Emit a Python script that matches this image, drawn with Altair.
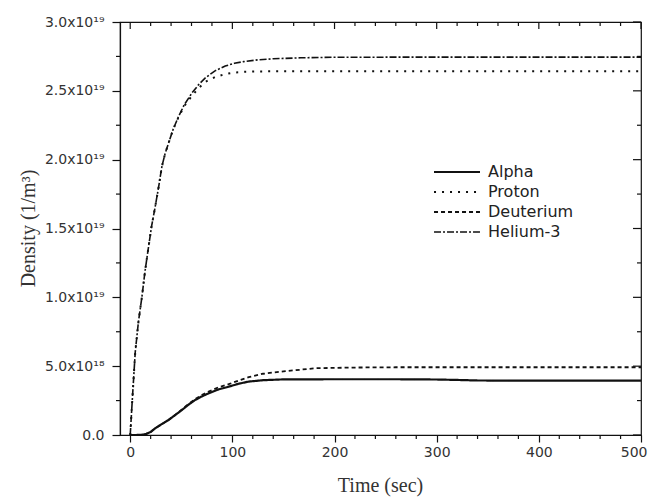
import altair as alt
import pandas as pd

# ---- data ----
series_names = ["Alpha", "Proton", "Deuterium", "Helium-3"]

t_he3 = [0, 2, 4.9, 8, 11.4, 14.5, 18, 21, 24.5, 28, 31, 34, 37.5, 42, 47.4, 53, 60.5, 67,
         73.5, 83, 93, 102, 111, 125, 140, 167, 200, 300, 500]
v_he3 = [0, 0.25, 0.60, 0.82, 1.00, 1.19, 1.37, 1.52, 1.66, 1.81, 1.95, 2.04, 2.12, 2.22,
         2.315, 2.40, 2.485, 2.545, 2.594, 2.645, 2.68, 2.70, 2.712, 2.725, 2.733, 2.74,
         2.744, 2.745, 2.745]  # x1e19

t_proton = [0, 2, 4.9, 8, 11.4, 14.5, 18, 21, 24.5, 28, 31, 34, 37.5, 42, 47.4, 53, 60.5, 67,
            73.5, 83, 93, 102, 111, 125, 150, 300, 500]
v_proton = [0, 0.25, 0.60, 0.82, 1.00, 1.19, 1.37, 1.52, 1.66, 1.81, 1.95, 2.04, 2.12, 2.22,
            2.31, 2.39, 2.465, 2.52, 2.565, 2.60, 2.622, 2.633, 2.638, 2.641, 2.642, 2.642,
            2.642]  # x1e19

t_alpha = [0, 5, 10, 14.7, 20, 24.5, 30, 37.5, 44, 50.7, 57, 63.7, 70, 76.8, 86, 96.4, 106,
           116, 130, 150, 200, 260, 300, 320, 340, 370, 500]
v_alpha = [0, 0, 0.01, 0.05, 0.22, 0.49, 0.75, 1.09, 1.45, 1.82, 2.2, 2.55, 2.8, 3.03, 3.3,
           3.51, 3.72, 3.88, 3.98, 4.04, 4.05, 4.05, 4.03, 4.0, 3.96, 3.95, 3.95]  # x1e18

t_deut = [0, 5, 10, 14.7, 20, 24.5, 30, 37.5, 44, 50.7, 57, 63.7, 70, 76.8, 86, 96.4, 106,
          116, 130, 150, 181, 220, 260, 500]
v_deut = [0, 0, 0.01, 0.05, 0.22, 0.49, 0.75, 1.09, 1.46, 1.85, 2.25, 2.62, 2.9, 3.15, 3.45,
          3.69, 3.95, 4.2, 4.45, 4.62, 4.85, 4.9, 4.92, 4.92]  # x1e18

x_major_ticks = [0, 100, 200, 300, 400, 500]
x_minor_ticks = [20, 40, 60, 80, 120, 140, 160, 180, 220, 240, 260, 280,
                 320, 340, 360, 380, 420, 440, 460, 480]
y_major_ticks = [0, 5e18, 1e19, 1.5e19, 2e19, 2.5e19, 3e19]
y_tick_labels = ["0.0", "5.0x10¹⁸", "1.0x10¹⁹", "1.5x10¹⁹", "2.0x10¹⁹", "2.5x10¹⁹", "3.0x10¹⁹"]
y_minor_ticks = [2.5e18, 7.5e18, 1.25e19, 1.75e19, 2.25e19, 2.75e19]

rows = []
for t, v in zip(t_alpha, v_alpha):
    rows.append({"t": t, "v": v * 1e18, "s": "Alpha"})
for t, v in zip(t_proton, v_proton):
    rows.append({"t": t, "v": v * 1e19, "s": "Proton"})
for t, v in zip(t_deut, v_deut):
    rows.append({"t": t, "v": v * 1e18, "s": "Deuterium"})
for t, v in zip(t_he3, v_he3):
    rows.append({"t": t, "v": v * 1e19, "s": "Helium-3"})
df = pd.DataFrame(rows)

W, H = 521, 413
xscale = alt.Scale(domain=[-10, 500], nice=False, zero=False)
yscale = alt.Scale(domain=[0, 3e19], nice=False)

y_label_expr = " : ".join(
    f"abs(datum.value - {v}) < 1e15 ? '{lab}'" for v, lab in zip(y_major_ticks, y_tick_labels)
) + " : ''"

lines = alt.Chart(df).mark_line(color="#111111").encode(
    x=alt.X("t:Q", scale=xscale,
            axis=alt.Axis(values=x_major_ticks, tickSize=7,
                          title="Time (sec)", grid=False, labelOverlap=False,
                          labelFlush=True, labelFlushOffset=6,
                          titleX=260, titleY=50, titleBaseline="middle",
                          labelPadding=3)),
    y=alt.Y("v:Q", scale=yscale,
            axis=alt.Axis(values=y_major_ticks, labelExpr=y_label_expr, labelOverlap=False,
                          tickSize=8, labelFlush=False,
                          title="Density (1/m³)", grid=False,
                          titleX=-92, titleY=206, titleAngle=-90, titleAlign="center",
                          titleBaseline="middle", labelPadding=8)),
    strokeDash=alt.StrokeDash(
        "s:N",
        scale=alt.Scale(domain=series_names,
                        range=[[1, 0], [2, 6], [4, 3], [7, 2, 2, 2]]),
        legend=alt.Legend(title=None, orient="none", legendX=329, legendY=142,
                          symbolType="M-4,0H4", symbolSize=132,
                          symbolStrokeColor="#111111", symbolStrokeWidth=1.6,
                          labelFontSize=16, labelFont="DejaVu Sans", labelColor="#222222",
                          rowPadding=4, padding=0, labelOffset=23),
    ),
    strokeWidth=alt.StrokeWidth(
        "s:N",
        scale=alt.Scale(domain=series_names, range=[2.2, 1.6, 1.6, 1.6]),
        legend=None,
    ),
    order=alt.Order("t:Q"),
)

xmaj = pd.DataFrame({"t": x_major_ticks})
xmin = pd.DataFrame({"t": x_minor_ticks})
ymaj = pd.DataFrame({"v": y_major_ticks})
ymin = pd.DataFrame({"v": y_minor_ticks})

def xrule(d, a, b):
    return alt.Chart(d).mark_rule(color="#111111", strokeWidth=1.2).encode(
        x=alt.X("t:Q", scale=xscale), y=alt.value(a), y2=alt.value(b))

def yrule(d, a, b):
    return alt.Chart(d).mark_rule(color="#111111", strokeWidth=1.2).encode(
        y=alt.Y("v:Q", scale=yscale), x=alt.value(a), x2=alt.value(b))

tick_layers = [
    xrule(xmaj, 0, 7), xrule(xmin, 0, 4),          # top, inward
    xrule(xmin, H, H + 4),                          # bottom minor
    yrule(ymaj, W, W - 8), yrule(ymin, W, W - 4),  # right, inward
    yrule(ymin, 0, -4),                             # left minor
]

chart = alt.layer(lines, *tick_layers).properties(
    width=W, height=H,
    autosize=alt.AutoSizeParams(type="none"),
    padding={"left": 112, "top": 14, "right": 7, "bottom": 62},
    background="white",
).configure_view(
    stroke="#111111", strokeWidth=1.2
).configure_axis(
    domainColor="#111111", tickColor="#111111", domainWidth=1.2, tickWidth=1.2,
    labelFont="DejaVu Sans", labelFontSize=14, labelColor="#333333",
    titleFont="Liberation Serif", titleFontSize=20, titleFontWeight="normal",
    titleColor="#333333", labelOverlap=False,
)

chart.save("out.html", embed_options={"renderer": "svg", "actions": False})
